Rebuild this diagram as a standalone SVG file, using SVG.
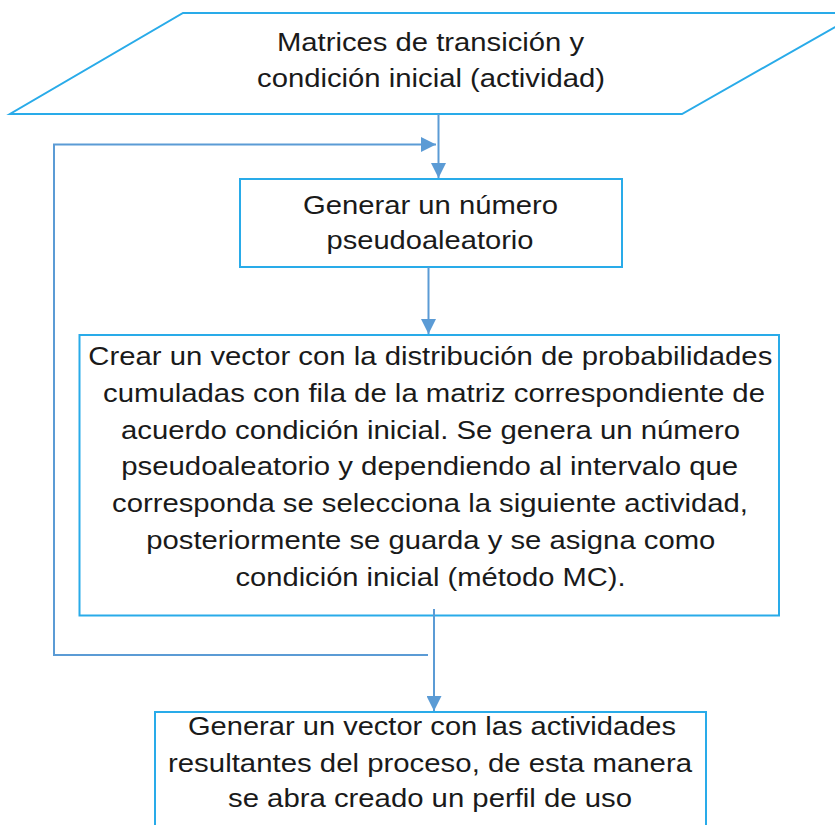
<svg xmlns="http://www.w3.org/2000/svg" width="835" height="825" viewBox="0 0 835 825">
<style>
.shape{fill:#ffffff;stroke:#29ABE9;stroke-width:2}
.lbl{font-family:"Liberation Sans",Arial,sans-serif;font-size:25.5px;fill:#1a1a1a;text-anchor:middle}
.conn{fill:none;stroke:#5B9BD5;stroke-width:2}
</style>
<defs>
<marker id="arr" viewBox="0 0 10 10" refX="10" refY="5" markerWidth="15" markerHeight="15" markerUnits="userSpaceOnUse" orient="auto">
<path d="M0,0 L10,5 L0,10 z" fill="#5B9BD5"/>
</marker>
</defs>
<rect width="835" height="825" fill="#ffffff"/>
<g id="input">
<polygon class="shape" points="183,13 860,13 682,114 10,114"/>
<text class="lbl" x="430.5" y="51" textLength="307" lengthAdjust="spacingAndGlyphs">Matrices de transición y</text>
<text class="lbl" x="431" y="87" textLength="348" lengthAdjust="spacingAndGlyphs">condición inicial (actividad)</text>
</g>
<g id="generar">
<rect class="shape" x="240" y="179" width="382" height="88"/>
<text class="lbl" x="430.5" y="214" textLength="255" lengthAdjust="spacingAndGlyphs">Generar un número</text>
<text class="lbl" x="430" y="249" textLength="207" lengthAdjust="spacingAndGlyphs">pseudoaleatorio</text>
</g>
<g id="crear">
<rect class="shape" x="79.5" y="335" width="699.5" height="280.5"/>
<text class="lbl" x="430.3" y="365" textLength="684" lengthAdjust="spacingAndGlyphs">Crear un vector con la distribución de probabilidades</text>
<text class="lbl" x="434" y="401.8" textLength="662" lengthAdjust="spacingAndGlyphs">cumuladas con fila de la matriz correspondiente de</text>
<text class="lbl" x="430.5" y="438.6" textLength="619" lengthAdjust="spacingAndGlyphs">acuerdo condición inicial. Se genera un número</text>
<text class="lbl" x="429.7" y="475.4" textLength="617" lengthAdjust="spacingAndGlyphs">pseudoaleatorio y dependiendo al intervalo que</text>
<text class="lbl" x="430" y="512.2" textLength="636" lengthAdjust="spacingAndGlyphs">corresponda se selecciona la siguiente actividad,</text>
<text class="lbl" x="430.8" y="549" textLength="569" lengthAdjust="spacingAndGlyphs">posteriormente se guarda y se asigna como</text>
<text class="lbl" x="430.5" y="585.8" textLength="390" lengthAdjust="spacingAndGlyphs">condición inicial (método MC).</text>
</g>
<g id="resultado">
<rect class="shape" x="155" y="712" width="551" height="130"/>
<text class="lbl" x="432" y="735" textLength="488" lengthAdjust="spacingAndGlyphs">Generar un vector con las actividades</text>
<text class="lbl" x="430" y="771.5" textLength="524" lengthAdjust="spacingAndGlyphs">resultantes del proceso, de esta manera</text>
<text class="lbl" x="430" y="806.5" textLength="404" lengthAdjust="spacingAndGlyphs">se abra creado un perfil de uso</text>
</g>
<g id="connectors">
<path class="conn" d="M438.5,114 V178" marker-end="url(#arr)"/>
<path class="conn" d="M428,655 H54 V144.5 H436" marker-end="url(#arr)"/>
<path class="conn" d="M428.5,267 V334" marker-end="url(#arr)"/>
<path class="conn" d="M434,609 V711" marker-end="url(#arr)"/>
</g>
</svg>
